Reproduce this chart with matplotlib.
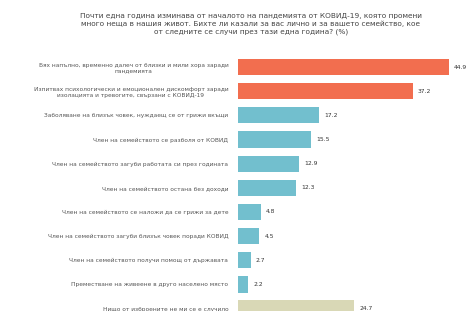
import matplotlib.pyplot as plt

# data
labels = [
    "Бях напълно, временно далеч от близки и мили хора заради\nпандемията",
    "Изпитвах психологически и емоционален дискомфорт заради\nизолацията и тревогите, свързани с КОВИД-19",
    "Заболяване на близък човек, нуждаещ се от грижи вкъщи",
    "Член на семейството се разболя от КОВИД",
    "Член на семейството загуби работата си през годината",
    "Член на семейството остана без доходи",
    "Член на семейството се наложи да се грижи за дете",
    "Член на семейството загуби близък човек поради КОВИД",
    "Член на семейството получи помощ от държавата",
    "Преместване на живеене в друго населено място",
    "Нищо от изброените не ми се е случило",
]
values = [44.9, 37.2, 17.2, 15.5, 12.9, 12.3, 4.8, 4.5, 2.7, 2.2, 24.7]
colors = ["#F26E4F"] * 2 + ["#72BFCE"] * 8 + ["#D9D8B6"]

title = ("Почти една година изминава от началото на пандемията от КОВИД-19, която промени\n"
         "много неща в нашия живот. Бихте ли казали за вас лично и за вашето семейство, кое\n"
         "от следните се случи през тази една година? (%)")

fig = plt.figure(figsize=(4.77, 3.11), dpi=100)
ax = fig.add_axes([238 / 477, 0, 239 / 477, 256 / 311])

pos = list(range(len(values)))
ax.barh(pos, values, height=0.67, color=colors)
for p, v in zip(pos, values):
    ax.text(v + 1.1, p, f"{v:.1f}", va="center", ha="left", fontsize=4.3, color="#333333")

ax.set_xlim(0, 50.85)
ax.set_ylim(10.1, -0.5)
ax.set_yticks(pos)
ax.set_yticklabels(labels, fontsize=4.2, color="#555555", ha="right", multialignment="center")
ax.tick_params(axis="y", length=0, pad=7)
ax.set_xticks([])
for s in ax.spines.values():
    s.set_visible(False)

fig.text(251 / 477, 1 - 24 / 311, title, ha="center", va="center", fontsize=5.3,
         color="#444444", linespacing=1.35)

fig.savefig("out.png", dpi=100)
